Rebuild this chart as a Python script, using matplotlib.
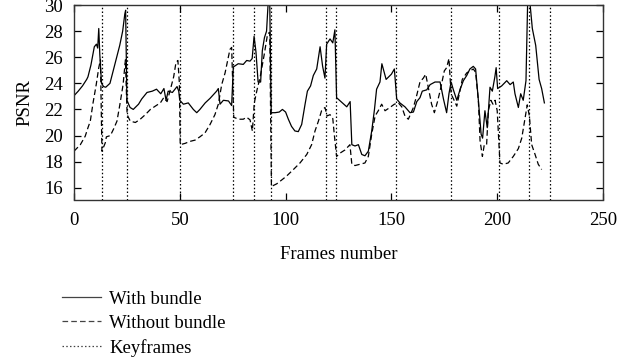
"""
PSNR per frame, with and without bundle adjustment, keyframes marked.
"""

import matplotlib
matplotlib.use("Agg")
import matplotlib.pyplot as plt
from matplotlib.lines import Line2D

plt.rcParams['font.family'] = ['Liberation Serif', 'DejaVu Serif']

# with bundle (solid)
WB_FRAMES = [0, 2, 4, 6, 6.6, 8, 9.6, 10.6, 11.2, 11.7, 12.2, 13, 14, 15, 17,
             19.2, 21.6, 23, 24, 24.4, 25, 26.5, 28, 30.5, 32, 34.5, 37, 39,
             41, 42.5, 43.5, 44.5, 46.5, 48.7, 49.5, 50, 51.7, 54, 56.4, 58,
             59.5, 62, 64.3, 67.4, 68.2, 69, 70.6, 73, 74.5, 75.3, 77.6, 80,
             81.6, 83.2, 84.2, 85.1, 86, 87, 88.2, 89, 90, 91, 91.8, 92.5,
             93.2, 95, 97, 98.5, 100, 101.3, 102.8, 104.4, 106, 107.6, 109.2,
             110.3, 111.8, 113.1, 114.7, 116.3, 117.5, 118.6, 119.4, 121,
             122.3, 123.3, 124.1, 126.5, 128.9, 130.5, 131.3, 132.8, 134.4,
             136, 137.5, 139.1, 140.7, 142, 143, 144.6, 145.5, 147.5, 150,
             151.4, 152.5, 154, 156.4, 158.8, 160.4, 162, 163.5, 164.6, 166.7,
             168.3, 170.6, 173, 174.6, 176.1, 177.2, 178.2, 179.3, 180.9,
             182.4, 184, 185.6, 187.1, 188.7, 189.8, 191.1, 192.4, 193.1,
             194.2, 195.3, 196.6, 197.7, 198.9, 199.5, 200.2, 202.1, 204.5,
             206.1, 207.6, 208.4, 210, 211.1, 212.3, 213.6, 214.4, 215.4,
             216.6, 218.2, 219.8, 221, 222.3]
WB_PSNR = [23.05, 23.4, 23.8, 24.3, 24.5, 25.4, 26.8, 27.0, 26.7, 28.2, 26.2,
           24.0, 23.75, 23.7, 24.0, 25.4, 26.9, 28.0, 29.3, 29.6, 22.7, 22.15,
           22.0, 22.4, 22.8, 23.3, 23.4, 23.55, 23.2, 23.6, 22.7, 23.4, 23.3,
           23.75, 23.4, 22.7, 22.4, 22.5, 22.0, 21.75, 22.0, 22.5, 22.85,
           23.4, 23.6, 22.4, 22.7, 22.65, 22.3, 25.25, 25.5, 25.45, 25.75,
           25.7, 25.9, 27.6, 26.4, 24.1, 24.1, 26.5, 27.5, 28.0, 30.3, 30.3,
           21.75, 21.75, 21.8, 22.0, 21.8, 21.25, 20.7, 20.35, 20.3, 20.85,
           22.4, 23.4, 23.8, 24.6, 25.1, 26.8, 25.3, 24.4, 27.0, 27.4, 27.1,
           28.1, 22.9, 22.55, 22.2, 22.6, 19.3, 19.2, 19.3, 18.55, 18.45,
           18.8, 20.35, 22.0, 23.55, 24.1, 25.5, 24.3, 24.7, 25.1, 22.8, 22.5,
           22.2, 21.75, 21.8, 22.6, 22.9, 23.4, 23.5, 23.9, 24.1, 24.1, 22.8,
           21.75, 23.2, 24.1, 23.5, 22.7, 23.5, 24.2, 24.6, 25.1, 25.3, 25.1,
           22.7, 20.1, 19.8, 21.9, 20.6, 23.7, 23.4, 24.5, 25.2, 23.6, 23.8,
           24.2, 23.9, 24.1, 23.2, 22.15, 23.2, 22.7, 24.2, 30.3, 30.3, 28.2,
           26.9, 24.3, 23.6, 22.5]

# without bundle (dashed)
NB_FRAMES = [0, 3, 5.3, 6.6, 7.7, 9, 10.5, 11.7, 12.5, 13.2, 14.8, 15.3, 17.2,
             18.7, 20.3, 21.6, 23.2, 24.3, 25.1, 26.6, 29, 31.3, 33.7, 36.1,
             38.4, 40.8, 42.4, 44, 45.5, 47.1, 48.2, 49.1, 49.8, 50.2, 52.5,
             54.8, 57.2, 59.5, 61.9, 64.3, 66.6, 68.2, 69.8, 71.4, 72.9, 73.7,
             74.5, 75.5, 77.7, 80, 81.6, 83.2, 84.3, 85.2, 86.5, 88, 90, 91.5,
             92.5, 93.3, 95.8, 98.2, 100.5, 103.7, 106.8, 110, 112.3, 113.9,
             115.5, 117, 118.6, 119.6, 121, 122.3, 123, 124.1, 125.7, 128.1,
             130.4, 131.3, 132.8, 135.2, 137.5, 139.1, 140.7, 142.3, 143.8,
             145.4, 147, 149.3, 151.4, 153.3, 154.9, 156.4, 158, 160.4, 162,
             163.5, 165.1, 166.2, 167.4, 169, 170.3, 171.8, 173.4, 175, 176.1,
             177.2, 178.2, 179.6, 180.9, 182, 183.5, 185.6, 187.1, 188.7,
             189.8, 191.1, 191.9, 193, 193.9, 195, 195.8, 197, 198, 199, 200,
             201.3, 202.9, 205.2, 207.6, 210, 211.6, 213.1, 214.2, 215.2,
             216.3, 217.9, 219.4, 221]
NB_PSNR = [18.8, 19.3, 19.95, 20.6, 21.1, 22.5, 23.9, 25.2, 25.8, 18.8, 19.45,
           19.9, 20.0, 20.5, 21.1, 22.3, 23.9, 25.8, 21.6, 21.1, 21.0, 21.25,
           21.6, 22.0, 22.25, 22.5, 22.9, 22.6, 23.5, 24.5, 25.6, 25.75, 24.0,
           19.3, 19.4, 19.55, 19.65, 19.9, 20.2, 20.85, 21.6, 22.4, 23.9, 24.8,
           25.95, 26.6, 26.75, 21.4, 21.25, 21.25, 21.4, 21.2, 20.35, 22.5,
           23.5, 24.5, 26.3, 27.8, 27.9, 16.1, 16.3, 16.6, 16.9, 17.4, 17.9,
           18.55, 19.3, 20.35, 21.1, 21.9, 22.15, 21.5, 21.6, 21.3, 20.1, 18.4,
           18.65, 18.9, 19.3, 17.8, 17.7, 17.8, 17.9, 18.4, 20.1, 21.5, 21.9,
           22.4, 21.9, 22.15, 22.4, 22.5, 22.2, 21.5, 21.25, 22.15, 23.1, 24.1,
           24.4, 24.7, 23.7, 22.4, 21.75, 22.6, 23.7, 24.95, 25.2, 25.9, 23.2,
           22.7, 22.25, 23.1, 24.3, 24.8, 24.95, 25.1, 24.85, 22.7, 19.6, 18.4,
           19.3, 19.3, 21.9, 22.7, 22.4, 22.7, 21.9, 17.9, 17.8, 17.9, 18.4,
           19.0, 19.8, 21.3, 22.35, 21.5, 19.3, 18.55, 17.8, 17.4]

KEYFRAMES = [13, 25, 50, 75, 85, 93, 119, 124, 152, 178, 201, 215, 225]

X_TICKS = [0, 50, 100, 150, 200, 250]
Y_TICKS = [16, 18, 20, 22, 24, 26, 28, 30]

assert len(WB_FRAMES) == len(WB_PSNR)
assert len(NB_FRAMES) == len(NB_PSNR)

FS = 13.5
DASH = (0, (4.5, 2.5))
DOT = (0, (1.2, 1.8))

fig = plt.figure(figsize=(6.28, 3.60), dpi=100)
ax = fig.add_axes([74 / 628, 1 - 199.5 / 360, 529 / 628, 194.5 / 360])

ax.plot(WB_FRAMES, WB_PSNR, color='black', lw=0.9)
ax.plot(NB_FRAMES, NB_PSNR, color='black', lw=0.9, linestyle=DASH)
for k in KEYFRAMES:
    ax.axvline(k, color='black', lw=0.9, linestyle=DOT)

ax.set_xlim(0, 250)
ax.set_ylim(15.1, 30)
ax.set_xticks(X_TICKS)
ax.set_yticks(Y_TICKS)
ax.tick_params(direction='in', length=5, width=0.9, labelsize=FS,
               top=True, right=True)
ax.tick_params(axis='x', pad=9)
ax.tick_params(axis='y', pad=8)
for s in ax.spines.values():
    s.set_linewidth(1.0)
    s.set_color('#333333')

ax.set_xlabel('Frames number', fontsize=FS, labelpad=12)
ax.set_ylabel('PSNR', fontsize=FS, labelpad=8)

handles = [
    Line2D([], [], color='#444444', lw=0.9),
    Line2D([], [], color='#444444', lw=0.9, linestyle=DASH),
    Line2D([], [], color='#444444', lw=0.9, linestyle=DOT),
]
fig.legend(handles, ['With bundle', 'Without bundle', 'Keyframes'],
           loc='upper left', bbox_to_anchor=(54 / 628, 1 - 283 / 360),
           frameon=False, fontsize=FS, handlelength=2.1,
           handletextpad=0.45, labelspacing=0.38, borderaxespad=0)

fig.savefig('out.png', dpi=100)
